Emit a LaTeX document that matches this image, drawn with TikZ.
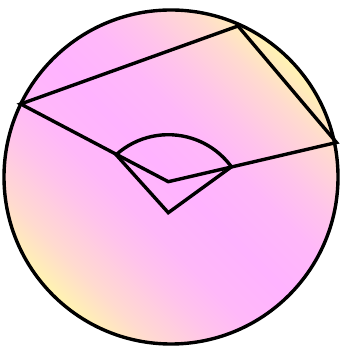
\documentclass[tikz,border=0pt]{standalone}
\usetikzlibrary{calc}
\definecolor{cY}{RGB}{255,244,176}
\definecolor{cP}{RGB}{255,179,255}
\colorlet{cMa}{cP!40!cY}
\colorlet{cMb}{cP!75!cY}
\colorlet{cMc}{cP!92!cY}
\pgfdeclareverticalshading{diagshade}{100bp}{color(0bp)=(cY); color(25bp)=(cY);
  color(30.5bp)=(cMa); color(37.5bp)=(cMb); color(42.5bp)=(cMc); color(50bp)=(cP);
  color(57.5bp)=(cMc); color(62.5bp)=(cMb); color(69.5bp)=(cMa); color(75bp)=(cY); color(100bp)=(cY)}
\begin{document}
\begin{tikzpicture}[x=1pt,y=1pt,
  edge/.style={line width=3.4pt,black},
  line join=miter]
\useasboundingbox (0,0) rectangle (340,348);
\coordinate (K) at (171,171);
\coordinate (A) at (20.7,244);
\coordinate (B) at (238,322);
\coordinate (C) at (336.5,205.5);
\coordinate (O) at (168.3,166.3);
\coordinate (D) at (168.3,135.3);
\begin{scope}
  \clip (K) circle[radius=167];
  \begin{scope}[transform canvas={rotate around={-45:(171,171)}}]
    \shade[shading=diagshade] (4,4) rectangle (338,338);
  \end{scope}
\end{scope}
\draw[edge] (K) circle[radius=167];
\draw[edge] (A) -- (B) -- (C) -- (O) -- cycle;
\draw[edge] (D) -- ++(132:78) arc[start angle=132,end angle=36,radius=78] -- cycle;
\end{tikzpicture}
\end{document}
